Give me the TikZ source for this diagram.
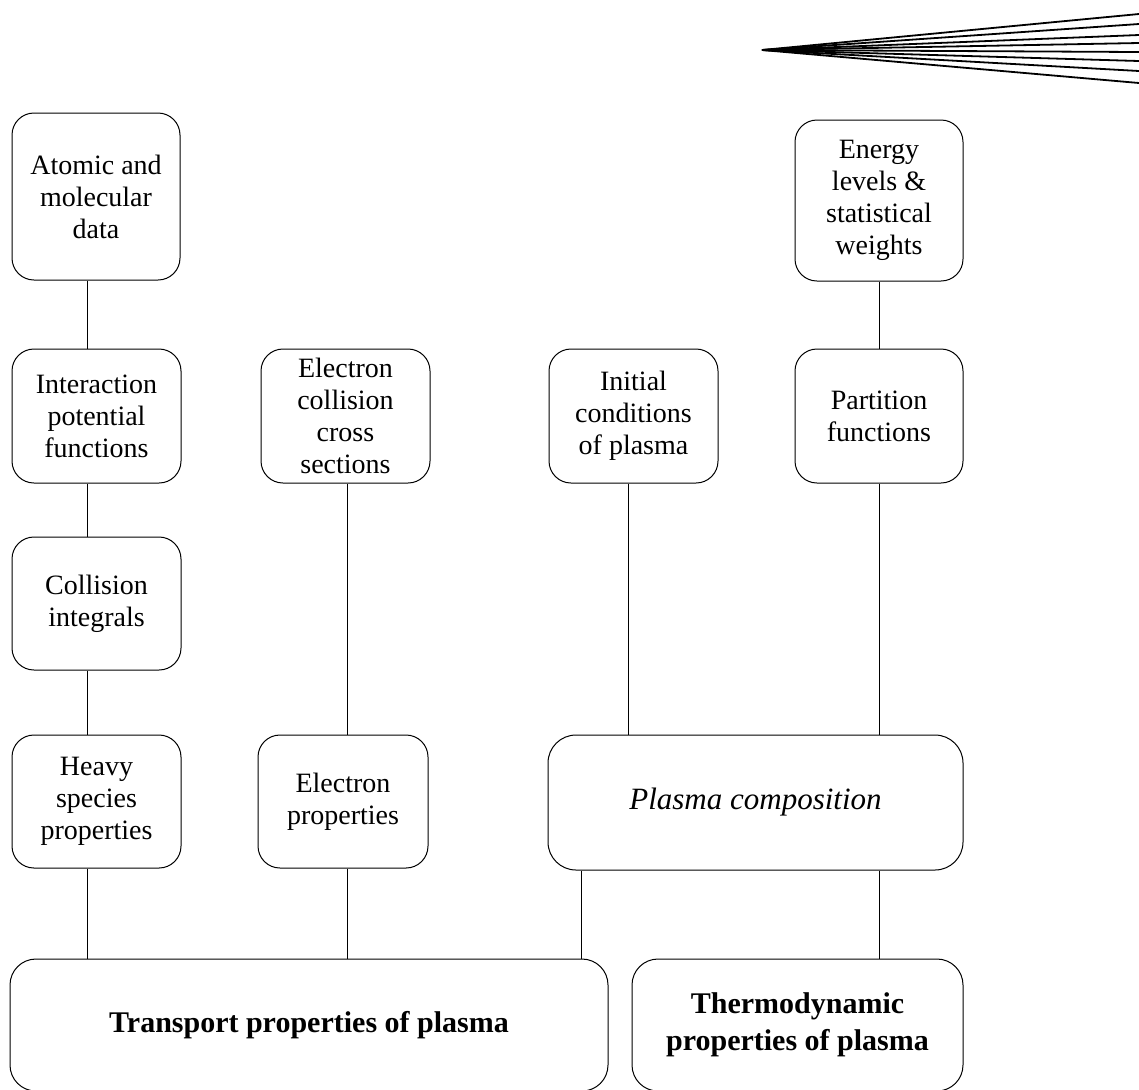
\documentclass[tikz,border=0pt]{standalone}
\usepackage{fontspec}
\setmainfont{Liberation Serif}
\usepackage{tikz}
\usetikzlibrary{arrows.meta,positioning,calc}

\begin{document}
\begin{tikzpicture}[x=0.5pt,y=-0.5pt,line width=0.5pt,
  box/.style={draw,rounded corners=11pt,align=center,inner sep=0pt,
    minimum width=84.5pt,minimum height=67pt,
    font=\fontsize{14}{16}\selectfont},
  bigbox/.style={draw,rounded corners=13pt,align=center,inner sep=0pt,
    minimum height=66pt,font=\fontsize{15}{18.5}\selectfont\bfseries}]
  \useasboundingbox (0,0) rectangle (1139,1089);
  % fan at the top
  \coordinate (apex) at (762,50);
  \foreach \y in {14,24,35,43,52,61,71,83}
    \draw[line width=0.9pt] (apex) -- (1139,\y);
  % top row
  \node[box,minimum width=84pt,minimum height=83.5pt] (atom) at (96,196.5) {Atomic and\\molecular\\data};
  \node[box,minimum width=84pt,minimum height=80.5pt] (levels) at (879,200.5) {Energy\\levels \&\\statistical\\weights};
  % second row
  \node[box] (potential) at (96.5,416) {Interaction\\potential\\functions};
  \node[box] (crossec) at (345.5,416) {Electron\\collision\\cross\\sections};
  \node[box] (initial) at (633.5,416) {Initial\\conditions\\of plasma};
  \node[box,minimum width=84pt] (partition) at (879,416) {Partition\\functions};
  % third row
  \node[box,minimum height=66.5pt] (omega) at (96.5,603.5) {Collision\\integrals};
  % fourth row
  \node[box,minimum height=66.5pt] (heavy) at (96.5,801.5) {Heavy\\species\\properties};
  \node[box,minimum width=85pt,minimum height=66.5pt] (eprop) at (343,801.5) {Electron\\properties};
  \node[box,rounded corners=14pt,minimum width=207.5pt,minimum height=67.5pt,
    font=\fontsize{15.5}{18}\selectfont\itshape] (comp) at (755.5,802.5) {Plasma composition};
  % results (bottom edge runs off the page)
  \node[bigbox,minimum width=299pt] (transport) at (309,1025) {Transport properties of plasma};
  \node[bigbox,minimum width=165.5pt] (thermo) at (797.5,1025) {Thermodynamic\\properties of plasma};
  % connections
  \draw ([xshift=-4.5pt]atom.south) -- ([xshift=-4.75pt]potential.north);
  \draw ([xshift=-4.75pt]potential.south) -- ([xshift=-4.75pt]omega.north);
  \draw ([xshift=-4.75pt]omega.south) -- ([xshift=-4.75pt]heavy.north);
  \draw ([xshift=-4.75pt]heavy.south) -- ([xshift=-4.75pt]heavy.south |- transport.north);
  \draw ([xshift=0.75pt]crossec.south) -- ([xshift=2pt]eprop.north);
  \draw ([xshift=2pt]eprop.south) -- ([xshift=2pt]eprop.south |- transport.north);
  \draw ([xshift=-2.75pt]initial.south) -- ([xshift=-2.75pt]initial.south |- comp.north);
  \draw (levels) -- (partition);
  \draw (partition) -- (partition |- comp.north);
  \draw ([xshift=17pt]comp.south west) -- ([xshift=17pt]comp.south west |- transport.north);
  \draw (partition |- comp.south) -- (partition |- thermo.north);
\end{tikzpicture}
\end{document}
